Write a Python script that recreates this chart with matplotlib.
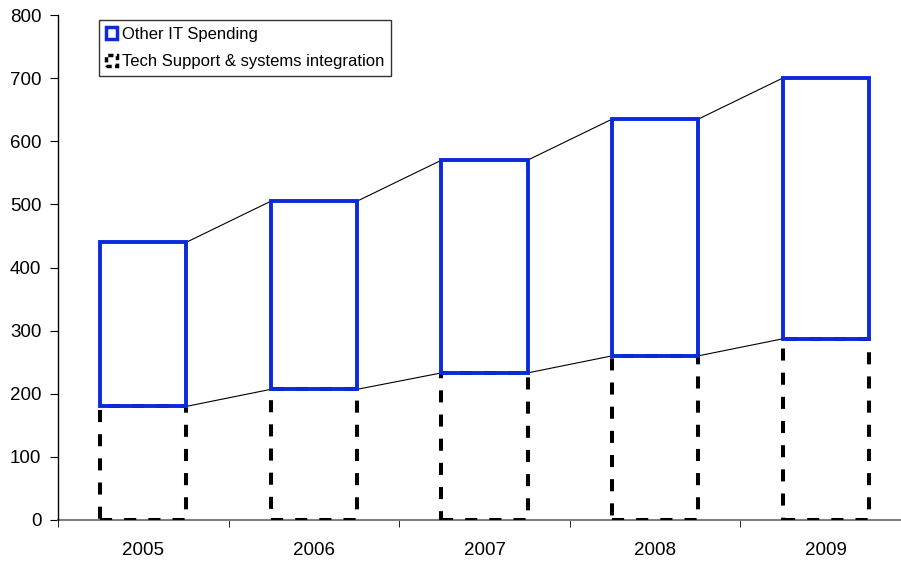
import matplotlib
matplotlib.use("Agg")
import matplotlib.pyplot as plt
from matplotlib.patches import Rectangle
import numpy as np

years = ["2005", "2006", "2007", "2008", "2009"]
tech_support = [180, 207, 233, 260, 287]
other_it = [260, 298, 337, 375, 413]
yticks = [0, 100, 200, 300, 400, 500, 600, 700, 800]

blue = "#0A2ADC"
plt.rcParams["font.family"] = ["Liberation Sans", "DejaVu Sans"]

fig = plt.figure(figsize=(9.01, 5.61), dpi=100)
ax = fig.add_axes([58/901, 41/561, 853/901, 505/561])

x = np.arange(len(years))
w = 0.505
totals = [a + b for a, b in zip(tech_support, other_it)]

# series lines
for i in range(len(x) - 1):
    for s in (tech_support, totals):
        ax.plot([x[i] + w/2, x[i+1] - w/2], [s[i], s[i+1]], color="black", lw=0.8, zorder=1)

ax.bar(x, tech_support, width=w, fill=False, edgecolor="black", linewidth=2.9,
       linestyle=(0, (3.0, 3.0)), zorder=5)
ax.bar(x, other_it, bottom=tech_support, width=w, fill=False, edgecolor=blue,
       linewidth=2.8, zorder=6)

ax.set_xlim(-0.5, 4.5)
ax.set_ylim(0, 800)
ax.set_yticks(yticks)
ax.set_yticklabels([str(v) for v in yticks], fontsize=13.5)
ax.set_xticks(x)
ax.set_xticklabels(years, fontsize=13.5)
ax.tick_params(axis="x", length=0, pad=16)
ax.set_xticks(np.arange(-0.5, 5.0, 1.0), minor=True)
ax.tick_params(axis="x", which="minor", length=5, direction="out", color="black")
ax.tick_params(axis="y", length=6, direction="out", pad=6)

for sp in ("top", "right"):
    ax.spines[sp].set_visible(False)
ax.spines["bottom"].set_color("#808080")
ax.spines["bottom"].set_linewidth(1.5)
ax.spines["left"].set_color("black")
ax.spines["left"].set_linewidth(1.0)
ax.spines["bottom"].set_zorder(2)

h1 = Rectangle((0, 0), 1, 1, facecolor="white", edgecolor=blue, linewidth=2.5)
h2 = Rectangle((0, 0), 1, 1, facecolor="white", edgecolor="black", linewidth=2.5,
               linestyle=(0, (1.5, 1.0)))
leg = ax.legend([h1, h2], ["Other IT Spending", "Tech Support & systems integration"],
                loc="upper left", bbox_to_anchor=(41/853, 500/505), fontsize=12,
                frameon=True, fancybox=False, edgecolor="black", handlelength=0.7,
                handleheight=0.7, handletextpad=0.3, borderpad=0.4, labelspacing=0.75,
                borderaxespad=0)
leg.get_frame().set_linewidth(1.0)
leg.set_zorder(10)

fig.savefig("out.png", dpi=100)
